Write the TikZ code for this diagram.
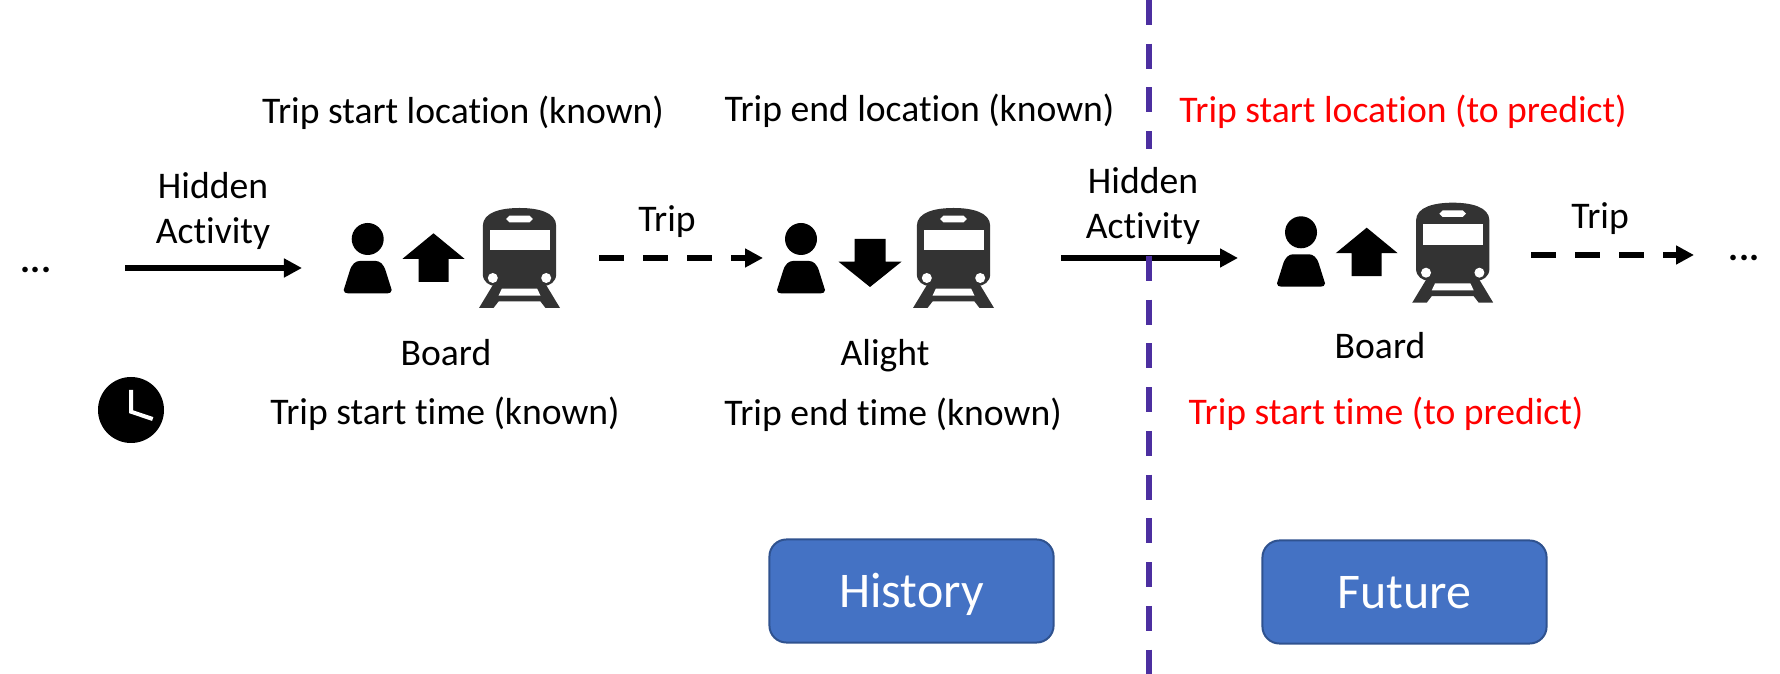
\documentclass[tikz,border=0pt]{standalone}
\usepackage{fontspec}
\setmainfont{Carlito}[Ligatures=NoCommon]
\usetikzlibrary{arrows.meta}
\definecolor{PlanBlue}{HTML}{4472C4}
\definecolor{PlanEdge}{HTML}{2F528F}
\definecolor{PlanPurple}{HTML}{4C2FA0}
\definecolor{PlanTrain}{HTML}{333333}
\definecolor{PlanRed}{HTML}{FF0000}
\tikzset{
  rider/.pic={
    \fill (0,0) circle (16);
    \fill (-24,51) .. controls (-24,53.5) and (-22,54.3) .. (-20,54.3) -- (20,54.3)
      .. controls (22,54.3) and (24,53.5) .. (24,51) -- (18,32)
      .. controls (16,25) and (12,22) .. (8,22) -- (-8,22)
      .. controls (-12,22) and (-16,25) .. (-18,32) -- cycle;
  },
  boardarrow/.pic={
    \fill (0,0) -- (31,25.5) -- (15,25.5) -- (15,48.5) -- (-15,48.5) -- (-15,25.5) -- (-31,25.5) -- cycle;
  },
  alightarrow/.pic={
    \fill (0,48) -- (31.5,22.7) -- (15.5,22.7) -- (15.5,0) -- (-15.5,0) -- (-15.5,22.7) -- (-31.5,22.7) -- cycle;
  },
  railcar/.pic={
    \fill[PlanTrain] (-36.7,18) .. controls (-36.7,4) and (-18,0) .. (0,0)
      .. controls (18,0) and (36.7,4) .. (36.7,18) -- (36.7,66)
      .. controls (36.7,74) and (30,78) .. (24,78) -- (-24,78)
      .. controls (-30,78) and (-36.7,74) .. (-36.7,66) -- cycle;
    \fill[PlanTrain] (-26,76) -- (-40.5,100) -- (-26,100) -- (-21,93.5) -- (21,93.5)
      -- (26,100) -- (40.5,100) -- (26,76) -- cycle;
    \fill[white] (-17.7,80.7) -- (17.7,80.7) -- (21,87.7) -- (-21,87.7) -- cycle;
    \fill[white] (-30,21.7) rectangle (30,42.3);
    \fill[white] (-10,7.7) -- (10,7.7) -- (13.3,11) -- (10,14.3) -- (-10,14.3) -- (-13.3,11) -- cycle;
    \fill[white] (-26.7,70) circle (5);
    \fill[white] (26.7,70) circle (5);
  }
}
\begin{document}
\begin{tikzpicture}[
  x=0.01cm, y=-0.01cm,
  caption/.style={anchor=base, inner sep=0pt, align=center,
                  font=\fontsize{10.7}{12.8}\selectfont},
  flow/.style={-{Triangle[length=0.18cm, width=0.18cm]}, line width=0.06cm, draw=black},
  tripflow/.style={flow, dash pattern=on 0.25cm off 0.19cm},
  divider/.style={draw=PlanPurple, line width=0.06cm, dash pattern=on 0.25cm off 0.187cm},
  phase/.style={rounded corners=0.17cm, draw=PlanEdge, line width=0.02cm, fill=PlanBlue,
                text=white, minimum width=2.84cm, minimum height=1.03cm, inner sep=0pt,
                text height=0.32cm, text depth=0pt,
                font=\fontsize{14.2}{16}\selectfont}
]
\useasboundingbox (0,0) rectangle (1780,674);
\coordinate (flowa) at (125,268);
\coordinate (flowb) at (302,268);
\coordinate (tripa) at (599,258);
\coordinate (tripb) at (763,258);
\coordinate (flowc) at (1061,258);
\coordinate (flowd) at (1238,258);
\coordinate (tripc) at (1531,255);
\coordinate (tripd) at (1694,255);
\coordinate (cuta) at (1149,0);
\coordinate (cutb) at (1149,149);
\coordinate (cutc) at (1149,256);
\coordinate (cutd) at (1149,674);
\node[caption] (dotsl) at (36,273) {\textbf{...}};
\node[caption] (dotsr) at (1744,261) {\textbf{...}};
\node[caption] (hidden1) at (213,244) {Hidden\\Activity};
\node[caption] (hidden2) at (1143,239) {Hidden\\Activity};
\node[caption] (trip1) at (667,232) {Trip};
\node[caption] (trip2) at (1600,229) {Trip};
\node[caption] (startloc) at (463,124) {Trip start location (known)};
\node[caption] (endloc) at (919.5,122) {Trip end location (known)};
\node[caption, text=PlanRed] (nextloc) at (1403,123) {Trip start location (to predict)};
\node[caption] (board1) at (446,366) {Board};
\node[caption] (alight) at (885,366) {Alight};
\node[caption] (board2) at (1380,359) {Board};
\node[caption] (starttime) at (445,425) {Trip start time (known)};
\node[caption] (endtime) at (893,426) {Trip end time (known)};
\node[caption, text=PlanRed] (nexttime) at (1386,425) {Trip start time (to predict)};
\node[phase] (history) at (911.5,591) {History};
\node[phase] (future) at (1404.5,592) {Future};
\pic at (367.7,239) {rider};
\pic at (433.5,233.3) {boardarrow};
\pic at (519.5,208) {railcar};
\pic at (801,239) {rider};
\pic at (870,239) {alightarrow};
\pic at (953.5,208) {railcar};
\pic at (1301,232.3) {rider};
\pic at (1366.7,227.7) {boardarrow};
\pic at (1452.7,202.7) {railcar};
\fill (131,410) circle (33);
\draw[white, line width=0.04cm] (131,390) -- (131,411.7) -- (152.7,419);
\draw[flow] (flowa) -- (flowb);
\draw[tripflow] (tripa) -- (tripb);
\draw[flow] (flowc) -- (flowd);
\draw[tripflow] (tripc) -- (tripd);
\draw[divider] (cuta) -- (cutb);
\draw[divider] (cutc) -- (cutd);
\end{tikzpicture}
\end{document}
